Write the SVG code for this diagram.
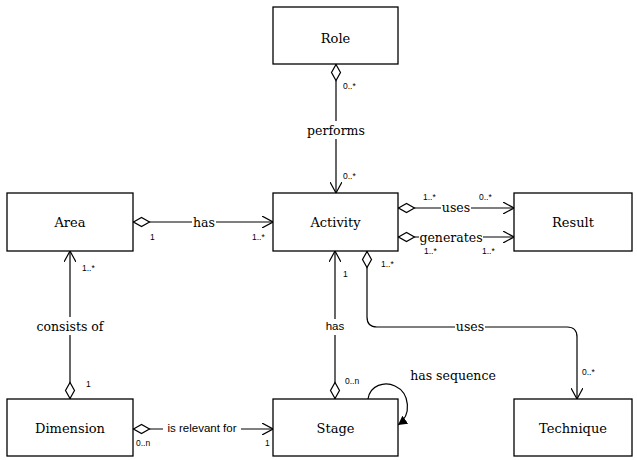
<svg xmlns="http://www.w3.org/2000/svg" width="637" height="460" viewBox="0 0 637 460">
<style>
.box{fill:#fff;stroke:#000;stroke-width:1.3}
.t{font-family:'DejaVu Serif',serif;font-size:13px;text-anchor:middle;dominant-baseline:central}
.l{font-family:'DejaVu Serif',serif;font-size:12.5px;text-anchor:middle;dominant-baseline:central}
.s{font-family:'Liberation Sans',Arial,sans-serif;font-size:11.5px;text-anchor:middle;dominant-baseline:central}
.m{font-family:'Liberation Sans',Arial,sans-serif;font-size:8.5px;dominant-baseline:central}
.c{fill:none;stroke:#000;stroke-width:1.2}
.bg{fill:#fff}
</style>
<defs>
<marker id="open" viewBox="0 0 12 12" refX="11" refY="6" markerWidth="12" markerHeight="12" markerUnits="userSpaceOnUse" orient="auto"><path d="M0,0 L11,6 L0,12" fill="none" stroke="#000" stroke-width="1.2"/></marker>
<marker id="dia" viewBox="0 0 18 12" refX="0" refY="6" markerWidth="18" markerHeight="12" markerUnits="userSpaceOnUse" orient="auto"><path d="M0.5,6 L8.5,1.5 L16.5,6 L8.5,10.5 Z" fill="#fff" stroke="#000" stroke-width="1.2"/></marker>
<marker id="fill" viewBox="0 0 10 10" refX="9" refY="5" markerWidth="10" markerHeight="10" markerUnits="userSpaceOnUse" orient="auto"><path d="M0,0 L9,5 L0,10 Z" fill="#000"/></marker>
</defs>
<g id="connectors">
<path class="c" d="M336,64 V193" marker-start="url(#dia)" marker-end="url(#open)"/>
<path class="c" d="M133,222 H273" marker-start="url(#dia)" marker-end="url(#open)"/>
<path class="c" d="M398,208 H514" marker-start="url(#dia)" marker-end="url(#open)"/>
<path class="c" d="M398,237 H514" marker-start="url(#dia)" marker-end="url(#open)"/>
<path class="c" d="M367,251 V317 Q367,327 377,327 H567 Q577,327 577,337 V399" marker-start="url(#dia)" marker-end="url(#open)"/>
<path class="c" d="M335,399 V251" marker-start="url(#dia)" marker-end="url(#open)"/>
<path class="c" d="M70,399 V251" marker-start="url(#dia)" marker-end="url(#open)"/>
<path class="c" d="M133,429 H273" marker-start="url(#dia)" marker-end="url(#open)"/>
<path class="c" d="M368,399 C370,385 385,381 395,386 C410,393 412,415 398,425" marker-end="url(#fill)"/>
<rect class="bg" x="306" y="121" width="60" height="18"/>
<text class="l" x="336" y="130">performs</text>
<rect class="bg" x="192" y="214" width="24" height="16"/>
<text class="l" x="204" y="222">has</text>
<rect class="bg" x="441" y="200" width="30" height="16"/>
<text class="l" x="456" y="207">uses</text>
<rect class="bg" x="419" y="229" width="64" height="16"/>
<text class="l" x="451" y="237">generates</text>
<rect class="bg" x="455" y="319" width="30" height="16"/>
<text class="l" x="470" y="326">uses</text>
<rect class="bg" x="323" y="319" width="24" height="16"/>
<text class="s" x="335" y="326">has</text>
<rect class="bg" x="32" y="317" width="76" height="18"/>
<text class="l" x="70" y="326">consists of</text>
<rect class="bg" x="163" y="422" width="78" height="14"/>
<text class="s" x="202" y="428">is relevant for</text>
<text class="l" x="453" y="375">has sequence</text>
<text class="m" x="343" y="86">0..*</text>
<text class="m" x="343" y="176">0..*</text>
<text class="m" x="150" y="237">1</text>
<text class="m" x="252" y="237">1..*</text>
<text class="m" x="423" y="197">1..*</text>
<text class="m" x="479" y="197">0..*</text>
<text class="m" x="424" y="251">1..*</text>
<text class="m" x="482" y="251">1..*</text>
<text class="m" x="381" y="264">1..*</text>
<text class="m" x="343" y="274">1</text>
<text class="m" x="345" y="381">0..n</text>
<text class="m" x="582" y="372">0..*</text>
<text class="m" x="82" y="268">1..*</text>
<text class="m" x="86" y="384">1</text>
<text class="m" x="136" y="443">0..n</text>
<text class="m" x="265" y="443">1</text>
</g>
<g id="role"><rect class="box" x="273" y="7" width="125" height="57"/><text class="t" x="335.5" y="38">Role</text></g>
<g id="activity"><rect class="box" x="273" y="193" width="125" height="58"/><text class="t" x="335.5" y="222">Activity</text></g>
<g id="area"><rect class="box" x="7" y="193" width="126" height="58"/><text class="t" x="70" y="222">Area</text></g>
<g id="result"><rect class="box" x="514" y="193" width="118" height="58"/><text class="t" x="573" y="222">Result</text></g>
<g id="dimension"><rect class="box" x="7" y="399" width="126" height="57"/><text class="t" x="70" y="428">Dimension</text></g>
<g id="stage"><rect class="box" x="273" y="399" width="125" height="57"/><text class="t" x="335.5" y="428">Stage</text></g>
<g id="technique"><rect class="box" x="514" y="399" width="118" height="57"/><text class="t" x="573" y="428">Technique</text></g>
</svg>
